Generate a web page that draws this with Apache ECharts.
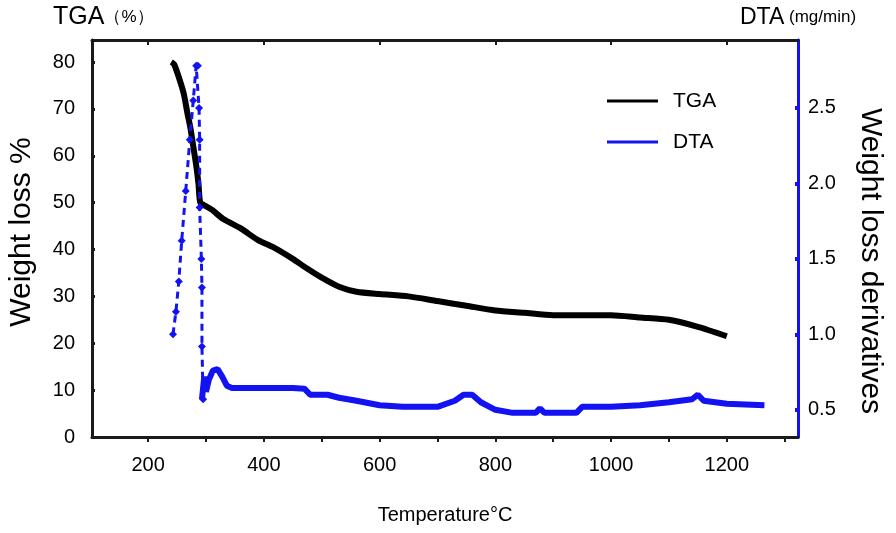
<!DOCTYPE html>
<html><head><meta charset="utf-8">
<script src="https://cdn.jsdelivr.net/npm/echarts@6/dist/echarts.min.js"></script>
<style>html,body{margin:0;padding:0;background:#fff}#c{width:896px;height:533px}</style>
</head><body><div id="c"></div>
<script>
// ---- data ----
const xLabelValues = [200, 400, 600, 800, 1000, 1200];
const xTickValues = [200, 300, 400, 500, 600, 700, 800, 900, 1000, 1100, 1200, 1300];
const leftTickValues = [0, 10, 20, 30, 40, 50, 60, 70, 80];
const rightTickValues = [0.5, 1.0, 1.5, 2.0, 2.5];

const tgaTemp  = [240, 245, 255, 262, 268, 273, 278, 283, 287, 290, 296, 310, 330, 360, 390, 416, 450, 474, 500, 531, 560, 600, 650, 700, 750, 800, 850, 900, 950, 1000, 1050, 1100, 1150, 1200];
const tgaValue = [80, 79.5, 76, 73, 69, 66, 62, 58, 54, 50, 49.5, 48.5, 46.5, 44.5, 42, 40.5, 38, 36, 34, 32, 31, 30.5, 30, 29, 28, 27, 26.5, 26, 26, 26, 25.5, 25, 23.5, 21.5];

const dtaPeakTemp  = [243, 248, 253, 258, 265, 272, 278, 283, 286, 288, 289, 289, 292, 293, 293, 295];
const dtaPeakValue = [1.0, 1.15, 1.35, 1.62, 1.95, 2.29, 2.55, 2.78, 2.78, 2.5, 2.29, 1.84, 1.5, 1.31, 0.92, 0.57];

const dtaTemp  = [293, 297, 300, 305, 312, 320, 328, 336, 345, 400, 450, 470, 480, 510, 530, 560, 600, 640, 700, 730, 745, 760, 775, 800, 830, 870, 877, 885, 940, 950, 1000, 1050, 1100, 1140, 1150, 1160, 1200, 1265];
const dtaValue = [0.57, 0.72, 0.62, 0.7, 0.76, 0.77, 0.72, 0.66, 0.645, 0.645, 0.645, 0.64, 0.6, 0.6, 0.58, 0.56, 0.53, 0.52, 0.52, 0.56, 0.6, 0.6, 0.55, 0.5, 0.48, 0.48, 0.51, 0.48, 0.48, 0.52, 0.52, 0.53, 0.55, 0.57, 0.6, 0.56, 0.54, 0.53];

const zip = (a, b) => a.map((v, i) => [v, b[i]]);
const FONT = "'Liberation Sans', Arial, sans-serif";
const BLUE = '#1212f2';

const chart = echarts.init(document.getElementById('c'), null, {renderer: 'canvas'});
chart.setOption({
  animation: false,
  backgroundColor: '#fff',
  textStyle: {fontFamily: FONT},
  grid: {left: 92, right: 98, top: 40, bottom: 96, containLabel: false},
  legend: {
    orient: 'vertical', left: 602, top: 84, itemWidth: 51, itemHeight: 3, itemGap: 17,
    icon: 'rect',
    textStyle: {fontSize: 21, color: '#000', padding: [0, 0, 0, 10], lineHeight: 24, fontFamily: FONT},
    data: ['TGA', 'DTA']
  },
  xAxis: [{
    type: 'value', min: 103, max: 1323, position: 'bottom',
    axisLine: {show: true, onZero: false, lineStyle: {color: '#1a1a1a', width: 3}},
    axisTick: {show: true, inside: false, length: 5, lineStyle: {color: '#1a1a1a', width: 2}, customValues: xTickValues},
    axisLabel: {show: true, margin: 18, fontSize: 20, color: '#000', customValues: xLabelValues,
      formatter: v => String(v)},
    splitLine: {show: false},
    name: 'Temperature°C', nameLocation: 'middle', nameGap: 68,
    nameTextStyle: {fontSize: 20, color: '#000'},
  }, {
    type: 'value', min: 103, max: 1323, position: 'top',
    axisLine: {show: true, onZero: false, lineStyle: {color: '#1a1a1a', width: 3}},
    axisTick: {show: true, inside: true, length: 5, lineStyle: {color: '#1a1a1a', width: 2}, customValues: xLabelValues},
    axisLabel: {show: false},
    splitLine: {show: false}
  }],
  yAxis: [{
    type: 'value', min: 0, max: 84.7, position: 'left',
    axisLine: {show: true, onZero: false, lineStyle: {color: '#1a1a1a', width: 3}},
    axisTick: {show: true, inside: true, length: 3, lineStyle: {color: '#1a1a1a', width: 3}, customValues: leftTickValues},
    axisLabel: {show: true, margin: 17, fontSize: 20, color: '#000', customValues: leftTickValues},
    splitLine: {show: false}
  }, {
    type: 'value', min: 0.32, max: 2.95, position: 'right',
    axisLine: {show: true, onZero: false, lineStyle: {color: BLUE, width: 3}},
    axisTick: {show: true, inside: true, length: 3, lineStyle: {color: BLUE, width: 4}, customValues: rightTickValues},
    axisLabel: {show: true, margin: 10, fontSize: 20, color: '#000', customValues: rightTickValues,
      formatter: v => Number(v).toFixed(1)},
    splitLine: {show: false}
  }],
  graphic: [
    {type: 'text', left: 53, top: 5, style: {
      text: '{a|TGA}{b|（%）}',
      rich: {a: {fontSize: 25, fontFamily: FONT, fill: '#000'}, b: {fontSize: 17, fontFamily: FONT, fill: '#000'}}
    }},
    {type: 'text', left: 740, top: 6, style: {
      text: '{a|DTA}{b| (mg/min)}',
      rich: {a: {fontSize: 23, fontFamily: FONT, fill: '#000'}, b: {fontSize: 17, fontFamily: FONT, fill: '#000'}}
    }},
    {type: 'text', x: 22, y: 232, rotation: Math.PI / 2, style: {
      text: 'Weight loss %', fontSize: 30, fontFamily: FONT, fill: '#000', align: 'center', verticalAlign: 'middle'
    }},
    {type: 'text', x: 870, y: 261, rotation: -Math.PI / 2, style: {
      text: 'Weight loss derivatives', fontSize: 30, fontFamily: FONT, fill: '#000', align: 'center', verticalAlign: 'middle'
    }}
  ],
  series: [{
    name: 'TGA', type: 'line', xAxisIndex: 0, yAxisIndex: 0,
    data: zip(tgaTemp, tgaValue), showSymbol: false, symbol: 'none', smooth: 0.25,
    lineStyle: {color: '#000', width: 6}, itemStyle: {color: '#000'}
  }, {
    name: 'DTA peak', type: 'line', xAxisIndex: 0, yAxisIndex: 1,
    data: zip(dtaPeakTemp, dtaPeakValue), showSymbol: true, symbol: 'diamond', symbolSize: 8,
    lineStyle: {color: BLUE, width: 3, type: [7, 5]}, itemStyle: {color: BLUE}
  }, {
    name: 'DTA', type: 'line', xAxisIndex: 0, yAxisIndex: 1,
    data: zip(dtaTemp, dtaValue), showSymbol: false, symbol: 'none',
    lineStyle: {color: BLUE, width: 6}, itemStyle: {color: BLUE}
  }]
});
</script>
</body></html>
